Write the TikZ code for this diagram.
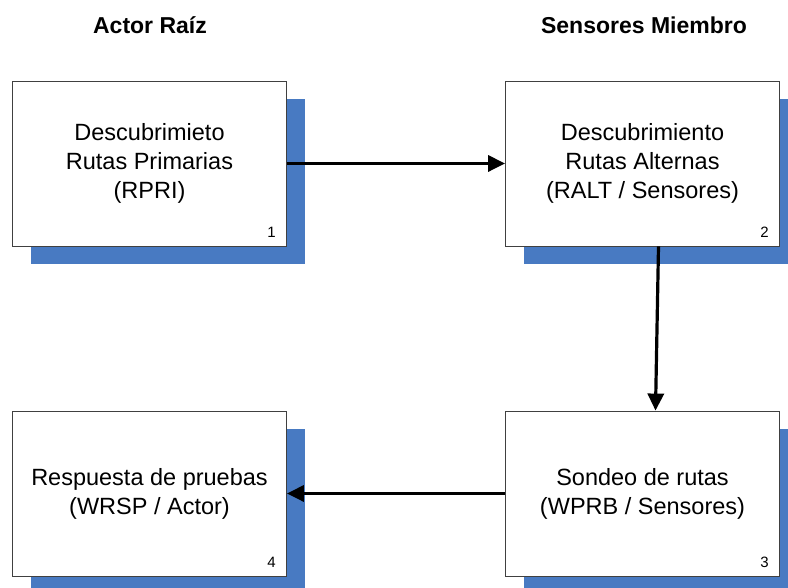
\documentclass[tikz,border=0pt]{standalone}
\usepackage{fontspec}
\setmainfont{Liberation Sans}
\usetikzlibrary{arrows.meta,shadows}
\definecolor{shadowblue}{RGB}{72,122,194}
\definecolor{boxline}{RGB}{64,64,64}

\tikzset{
  paso/.style={draw=boxline, line width=0.8pt, fill=white, minimum width=274pt,
    minimum height=165pt, align=center, inner sep=0pt,
    font=\fontsize{23.5}{29}\selectfont,
    general shadow={fill=shadowblue, shadow xshift=18pt, shadow yshift=-18pt}},
  titulo/.style={font=\bfseries\fontsize{23}{26}\selectfont},
  numero/.style={anchor=base east, inner sep=0pt, font=\fontsize{15}{15}\selectfont},
  flecha/.style={line width=3.2pt, -{Triangle[length=17pt,width=16pt]}}
}

\begin{document}
\begin{tikzpicture}[x=1pt,y=1pt]
  \useasboundingbox (0,0) rectangle (788,588);
  \clip (0,0) rectangle (788,588);
  \node[titulo] (t1) at (150,563) {Actor Raíz};
  \node[titulo] (t2) at (644,563) {Sensores Miembro};

  \node[paso] (b1) at (149.5,424.5) {Descubrimieto\\Rutas Primarias\\(RPRI)};
  \node[paso] (b2) at (642.5,424.5) {Descubrimiento\\Rutas Alternas\\(RALT / Sensores)};
  \node[paso] (b3) at (642.5,94.5) {Sondeo de rutas\\(WPRB / Sensores)};
  \node[paso] (b4) at (149.5,94.5) {Respuesta de pruebas\\(WRSP / Actor)};

  \node[numero] (n1) at ([shift={(-11,9)}]b1.south east) {1};
  \node[numero] (n2) at ([shift={(-11,9)}]b2.south east) {2};
  \node[numero] (n3) at ([shift={(-11,9)}]b3.south east) {3};
  \node[numero] (n4) at ([shift={(-11,9)}]b4.south east) {4};

  \draw[flecha] (b1.east) -- (b2.west);
  \draw[flecha] ([xshift=16]b2.south) -- ([xshift=13]b3.north);
  \draw[flecha] (b3.west) -- (b4.east);
\end{tikzpicture}
\end{document}
